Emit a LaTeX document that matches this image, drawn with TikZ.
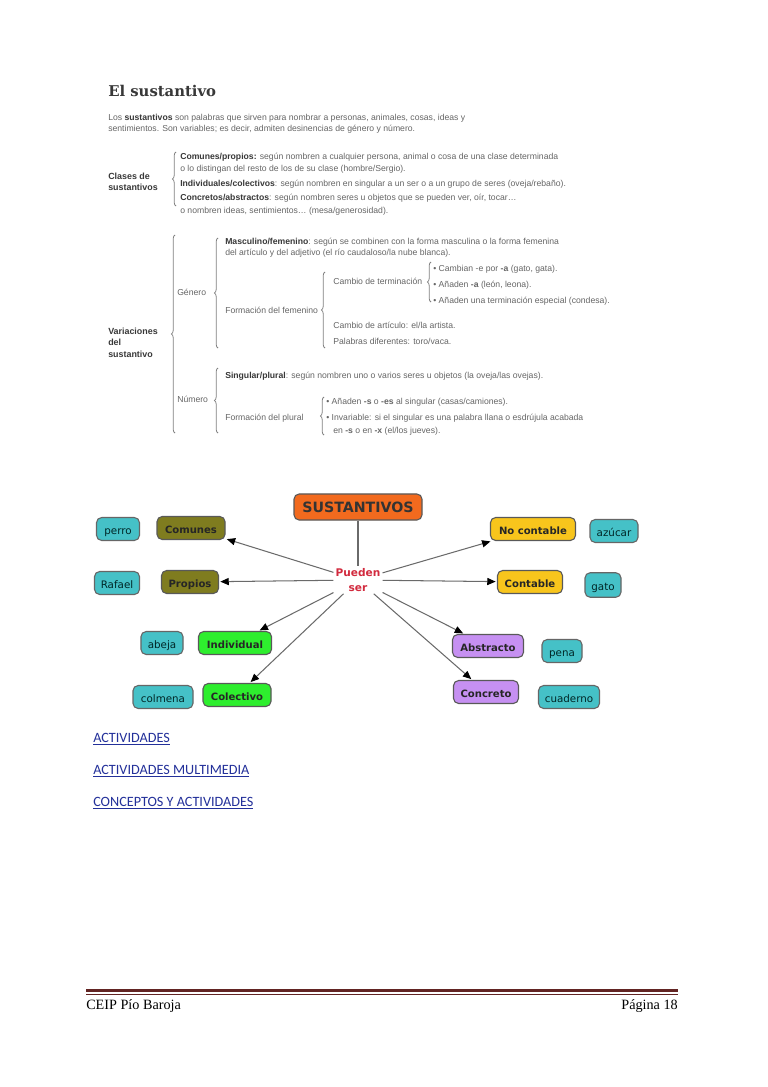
\documentclass[tikz,border=0pt]{standalone}
\usepackage{fontspec}
\setmainfont{Liberation Sans}
\newfontfamily\bodyf{Liberation Sans}
\newfontfamily\mapf{DejaVu Sans}
\newfontfamily\titlef{DejaVu Serif}
\newfontfamily\linkf{Carlito}
\newfontfamily\footf{Liberation Serif}
\usetikzlibrary{arrows.meta,decorations.pathreplacing}
\definecolor{txt}{HTML}{666666}
\definecolor{txtb}{HTML}{383838}
\definecolor{orangeF}{HTML}{F26A1E}
\definecolor{oliveF}{HTML}{7F7C1F}
\definecolor{tealF}{HTML}{45C1C7}
\definecolor{greenF}{HTML}{2EEE2E}
\definecolor{yellowF}{HTML}{F8C51C}
\definecolor{purpleF}{HTML}{C690F2}
\definecolor{redT}{HTML}{D22A3E}
\definecolor{linkC}{HTML}{23309A}
\definecolor{footC}{HTML}{622423}
\definecolor{arrC}{HTML}{6A6A6A}
\tikzset{
  bt/.style={anchor=west, inner sep=0pt, text=txt, font=\bodyf\fontsize{6.7}{8}\selectfont, text height=5pt, text depth=1.5pt},
  bb/.style={bt, text=txtb, font=\bodyf\bfseries\fontsize{6.9}{8}\selectfont},
  br/.style={decorate, decoration={brace, amplitude=2.8pt}, draw=black!50, line width=0.6pt},
  box/.style={rounded corners=4pt, draw=black!65, line width=0.85pt, minimum height=17.8pt, inner sep=1pt, text height=8pt, text depth=0pt},
  mainbox/.style={box, fill=orangeF, text=black!80, font=\mapf\bfseries\fontsize{11}{13}\selectfont, minimum height=20.2pt, text height=9pt, text depth=0pt},
  catO/.style={box, fill=oliveF, text=black!85, font=\mapf\bfseries\fontsize{7.8}{9}\selectfont},
  catG/.style={box, fill=greenF, text=black!85, font=\mapf\bfseries\fontsize{7.8}{9}\selectfont},
  catY/.style={box, fill=yellowF, text=black!85, font=\mapf\bfseries\fontsize{7.8}{9}\selectfont},
  catP/.style={box, fill=purpleF, text=black!85, font=\mapf\bfseries\fontsize{7.8}{9}\selectfont},
  ex/.style={box, fill=tealF, draw=black!60, text=black!70!teal, font=\mapf\fontsize{8}{9}\selectfont},
  arr/.style={draw=arrC, line width=0.8pt, -{Triangle[length=6.5pt,width=5.5pt,black]}, shorten >=1pt},
  lnk/.style={anchor=base west, inner sep=0pt, text=linkC, font=\linkf\fontsize{11}{13}\selectfont},
  ft/.style={anchor=base, inner sep=0pt, text=black, font=\footf\fontsize{11}{13}\selectfont}
}
\begin{document}
\begin{tikzpicture}[x=0.775pt,y=-0.775pt]
\path[fill=white] (0,0) rectangle (768,1087);
\useasboundingbox (0,0) rectangle (768,1087);

% ---------- Top section ----------
\node[anchor=west, inner sep=0pt, text=txtb, font=\titlef\bfseries\fontsize{11.5}{13}\selectfont] (title) at (108,91) {El sustantivo};
\node[bt] (p1) at (108,118) {Los \textcolor{txtb}{\bfseries sustantivos} son palabras que sirven para nombrar a personas, animales, cosas, ideas y};
\node[bt] (p2) at (108,129) {sentimientos. Son variables; es decir, admiten desinencias de género y número.};

\node[bb] (cl1) at (108,177) {Clases de};
\node[bb] (cl2) at (108,188) {sustantivos};
\draw[br] (176,206) -- (176,152);
\node[bt] (c1) at (180,157) {\textcolor{txtb}{\bfseries Comunes/propios:} según nombren a cualquier persona, animal o cosa de una clase determinada};
\node[bt] (c2) at (180,169) {o lo distingan del resto de los de su clase (hombre/Sergio).};
\node[bt] (c3) at (180,184) {\textcolor{txtb}{\bfseries Individuales/colectivos}: según nombren en singular a un ser o a un grupo de seres (oveja/rebaño).};
\node[bt] (c4) at (180,198) {\textcolor{txtb}{\bfseries Concretos/abstractos}: según nombren seres u objetos que se pueden ver, oír, tocar…};
\node[bt] (c5) at (180,211) {o nombren ideas, sentimientos… (mesa/generosidad).};

\node[bb] (va1) at (108,332) {Variaciones};
\node[bb] (va2) at (108,343) {del};
\node[bb] (va3) at (108,355) {sustantivo};
\draw[br] (175,433) -- (175,235);

\node[bt] (gen) at (177,293) {Género};
\draw[br] (218,348) -- (218,238);
\node[bt] (m1) at (225,242) {\textcolor{txtb}{\bfseries Masculino/femenino}: según se combinen con la forma masculina o la forma femenina};
\node[bt] (m2) at (225,253) {del artículo y del adjetivo (el río caudaloso/la nube blanca).};
\node[bt] (ct) at (333,282) {Cambio de terminación};
\draw[br] (431,302) -- (431,262);
\node[bt] (b1) at (433,269) {• Cambian -e por \textbf{-a} (gato, gata).};
\node[bt] (b2) at (433,285) {• Añaden \textbf{-a} (león, leona).};
\node[bt] (b3) at (433,301) {• Añaden una terminación especial (condesa).};
\node[bt] (ff) at (225,311) {Formación del femenino};
\draw[br] (325,348) -- (325,272);
\node[bt] (ca) at (333,326) {Cambio de artículo: el/la artista.};
\node[bt] (pd) at (333,342) {Palabras diferentes: toro/vaca.};

\node[bt] (num) at (177,400) {Número};
\draw[br] (218,433) -- (218,368);
\node[bt] (sp) at (225,376) {\textcolor{txtb}{\bfseries Singular/plural}: según nombren uno o varios seres u objetos (la oveja/las ovejas).};
\node[bt] (fp) at (225,418) {Formación del plural};
\draw[br] (324,435) -- (324,397);
\node[bt] (pl1) at (326,402) {• Añaden \textbf{-s} o \textbf{-es} al singular (casas/camiones).};
\node[bt] (pl2) at (326,418) {• Invariable: si el singular es una palabra llana o esdrújula acabada};
\node[bt] (pl3) at (333,431) {en \textbf{-s} o en \textbf{-x} (el/los jueves).};

% ---------- Concept map ----------
\node[mainbox, minimum width=99.2pt] (sust) at (358,507) {SUSTANTIVOS};
\node[align=center, inner sep=1.5pt, text=redT, font=\mapf\bfseries\fontsize{8.2}{11.6}\selectfont] (pueden) at (358,580) {Pueden\\ser};

\node[catO, minimum width=52.7pt] (comunes) at (191,528) {Comunes};
\node[ex, minimum width=33.3pt] (perro) at (118,529) {perro};
\node[catO, minimum width=44.2pt] (propios) at (190,582) {Propios};
\node[ex, minimum width=34.9pt] (rafael) at (117,583) {Rafael};
\node[catG, minimum width=56.6pt] (individual) at (235,643) {Individual};
\node[ex, minimum width=32.6pt] (abeja) at (162,643) {abeja};
\node[catG, minimum width=52.7pt] (colectivo) at (237,695) {Colectivo};
\node[ex, minimum width=46.5pt] (colmena) at (163,697) {colmena};

\node[catY, minimum width=65.9pt] (nocont) at (533,529) {No contable};
\node[ex, minimum width=37.2pt] (azucar) at (614,531) {azúcar};
\node[catY, minimum width=50.4pt] (contable) at (530,582) {Contable};
\node[ex, minimum width=27.9pt, minimum height=19pt] (gato) at (603,585) {gato};
\node[catP, minimum width=55pt] (abstracto) at (488,646) {Abstracto};
\node[ex, minimum width=31pt] (pena) at (562,651) {pena};
\node[catP, minimum width=50.4pt] (concreto) at (486,692) {Concreto};
\node[ex, minimum width=47.3pt] (cuaderno) at (569,697) {cuaderno};

\draw[draw=arrC, line width=0.8pt] (sust) -- (pueden);
\draw[arr] (pueden) -- (comunes);
\draw[arr] (pueden) -- (propios);
\draw[arr] (pueden) -- (individual);
\draw[arr] (pueden) -- (colectivo);
\draw[arr] (pueden) -- (nocont);
\draw[arr] (pueden) -- (contable);
\draw[arr] (pueden) -- (abstracto);
\draw[arr] (pueden) -- (concreto);

% ---------- Links ----------
\node[lnk] (l1) at (93,742) {\underline{ACTIVIDADES}};
\node[lnk] (l2) at (93,774) {\underline{ACTIVIDADES MULTIMEDIA}};
\node[lnk] (l3) at (93,806) {\underline{CONCEPTOS Y ACTIVIDADES}};

% ---------- Footer ----------
\draw[footC, line width=2.6pt] (86,990.5) -- (678,990.5);
\draw[footC, line width=0.8pt] (86,994.5) -- (678,994.5);
\node[ft, anchor=base west] (fl) at (86,1009) {CEIP Pío Baroja};
\node[ft, anchor=base east] (fr) at (678,1009) {Página 18};
\end{tikzpicture}
\end{document}
